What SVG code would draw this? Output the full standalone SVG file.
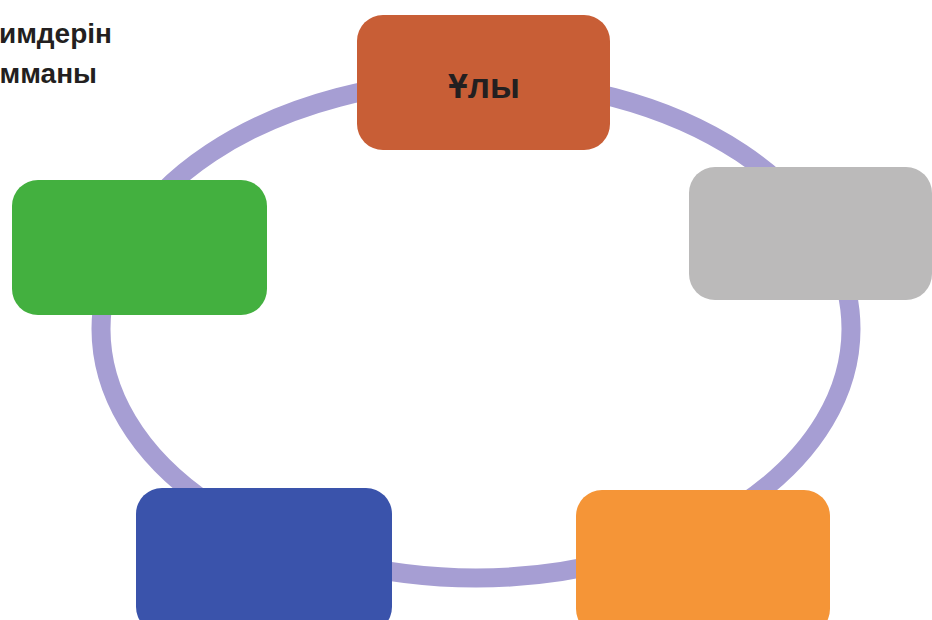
<svg xmlns="http://www.w3.org/2000/svg" width="932" height="620" viewBox="0 0 932 620">
<style>
.ring{fill:none;stroke:#A69ED3;stroke-width:19}
.box{stroke:none}
.t{font-family:"Liberation Sans",Arial,sans-serif;font-weight:bold;fill:#231F20}
</style>
<rect width="932" height="620" fill="#ffffff"/>
<g id="title">
<text class="t" x="112" y="43" font-size="28" text-anchor="end">имдерін</text>
<text class="t" x="97" y="83" font-size="28" text-anchor="end">мманы</text>
</g>
<g id="connectors">
<ellipse class="ring" cx="476" cy="329" rx="375" ry="249"/>
</g>
<g id="node-top">
<rect class="box" x="357" y="15" width="253" height="135" rx="26" fill="#C85E36"/>
<text class="t" x="484" y="98" font-size="35" text-anchor="middle">Ұлы</text>
</g>
<g id="node-right">
<rect class="box" x="689" y="167" width="243" height="133" rx="26" fill="#BBBABA"/>
</g>
<g id="node-bottom-right">
<rect class="box" x="576" y="490" width="254" height="145" rx="26" fill="#F59537"/>
</g>
<g id="node-bottom-left">
<rect class="box" x="136" y="488" width="256" height="145" rx="26" fill="#3A53AB"/>
</g>
<g id="node-left">
<rect class="box" x="12" y="180" width="255" height="135" rx="26" fill="#43B03F"/>
</g>
</svg>
